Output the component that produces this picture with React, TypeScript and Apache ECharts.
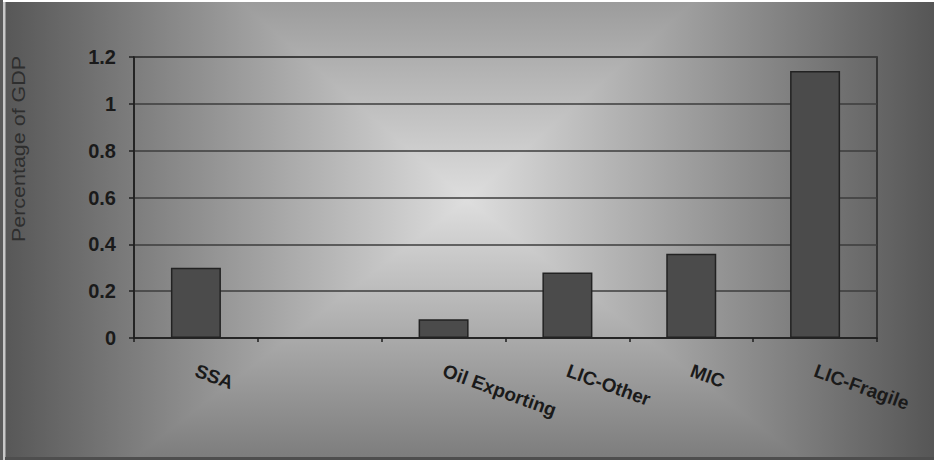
import React, { useEffect, useRef } from "react";
import * as echarts from "echarts";

const categories = ["SSA", "", "Oil Exporting", "LIC-Other", "MIC", "LIC-Fragile"];
const values: (number | null)[] = [0.3, null, 0.08, 0.28, 0.36, 1.14];
const yMin = 0;
const yMax = 1.2;
const yStep = 0.2;
const yAxisTitle = "Percentage of GDP";

const FONT = '"Liberation Sans", Arial, sans-serif';

export default function App() {
  const ref = useRef<HTMLDivElement>(null);
  useEffect(() => {
    if (!ref.current) return;
    const chart = echarts.init(ref.current, undefined, { renderer: "svg" });
    const W = 934;
    const H = 460;
    const cx = 467;
    const cy = 200;
    const Dh = 487;
    const Dt = 425;
    const Db = 377;
    const light = "#dedede";
    const dark = "#505050";
    const vGrad = new echarts.graphic.LinearGradient(
      0, cy - Dt, 0, cy + Db,
      [
        { offset: 0, color: dark },
        { offset: Dt / (Dt + Db), color: light },
        { offset: 1, color: dark },
      ],
      true
    );
    const hGrad = () =>
      new echarts.graphic.LinearGradient(
        cx - Dh, 0, cx + Dh, 0,
        [
          { offset: 0, color: dark },
          { offset: 0.5, color: light },
          { offset: 1, color: dark },
        ],
        true
      );
    const TL = [cx - Dh, cy - Dt];
    const TR = [cx + Dh, cy - Dt];
    const BL = [cx - Dh, cy + Db];
    const BR = [cx + Dh, cy + Db];
    chart.setOption({
      animation: false,
      backgroundColor: "#8a8a8a",
      graphic: [
        {
          type: "rect",
          z: -20,
          silent: true,
          shape: { x: 0, y: 0, width: W, height: H },
          style: { fill: vGrad },
        },
        {
          type: "polygon",
          z: -19,
          silent: true,
          shape: { points: [[cx, cy], TL, BL] },
          style: { fill: hGrad(), stroke: hGrad(), lineWidth: 1 },
        },
        {
          type: "polygon",
          z: -19,
          silent: true,
          shape: { points: [[cx, cy], TR, BR] },
          style: { fill: hGrad(), stroke: hGrad(), lineWidth: 1 },
        },
        {
          type: "rect",
          z: 20,
          silent: true,
          shape: { x: 0, y: 0, width: W, height: 2 },
          style: { fill: "#ffffff" },
        },
        {
          type: "rect",
          z: 20,
          silent: true,
          shape: { x: 0, y: 0, width: 3, height: H },
          style: { fill: "#5a5a5a" },
        },
        {
          type: "rect",
          z: 20,
          silent: true,
          shape: { x: 3, y: 2, width: 2.5, height: H },
          style: { fill: "#c8c8c8" },
        },
        {
          type: "rect",
          z: 20,
          silent: true,
          shape: { x: 5, y: 457, width: W, height: 3 },
          style: { fill: "#4e4e4e" },
        },
        {
          type: "text",
          z: 20,
          silent: true,
          x: 18,
          y: 149,
          rotation: Math.PI / 2,
          scaleX: 1.13,
          style: {
            text: yAxisTitle,
            font: `19px ${FONT}`,
            fill: "#2e2e2e",
            align: "center",
            verticalAlign: "middle",
          },
        },
      ],
      grid: {
        left: 134,
        right: 57,
        top: 57,
        bottom: 122,
        show: true,
        backgroundColor: "transparent",
        borderColor: "#262626",
        borderWidth: 1.5,
        outerBoundsMode: "none",
        containLabel: false,
      },
      xAxis: {
        type: "category",
        data: categories,
        boundaryGap: true,
        axisLine: { show: true, lineStyle: { color: "#1e1e1e", width: 1.5 } },
        axisTick: {
          show: true,
          alignWithLabel: false,
          length: 4,
          lineStyle: { color: "#1e1e1e", width: 1.5 },
        },
        axisLabel: {
          interval: 0,
          rotate: -20,
          margin: 32,
          color: "#1a1a1a",
          fontFamily: FONT,
          fontWeight: "bold",
          fontSize: 19,
        },
        splitLine: { show: false },
      },
      yAxis: {
        type: "value",
        min: yMin,
        max: yMax,
        interval: yStep,
        axisLine: { show: true, lineStyle: { color: "#1e1e1e", width: 1.5 } },
        axisTick: { show: true, length: 5, lineStyle: { color: "#1e1e1e", width: 1.5 } },
        axisLabel: {
          margin: 18,
          color: "#1a1a1a",
          fontFamily: FONT,
          fontWeight: "bold",
          fontSize: 20,
        },
        splitLine: { show: true, lineStyle: { color: "#3c3c3c", width: 1.5 } },
      },
      series: [
        {
          type: "bar",
          data: values,
          barWidth: 50,
          itemStyle: { color: "#4b4b4b", borderColor: "#222222", borderWidth: 1.5 },
        },
      ],
    });
    return () => chart.dispose();
  }, []);
  return (
    <div
      ref={ref}
      style={{ position: "fixed", left: 0, top: 0, width: 934, height: 460 }}
    />
  );
}
